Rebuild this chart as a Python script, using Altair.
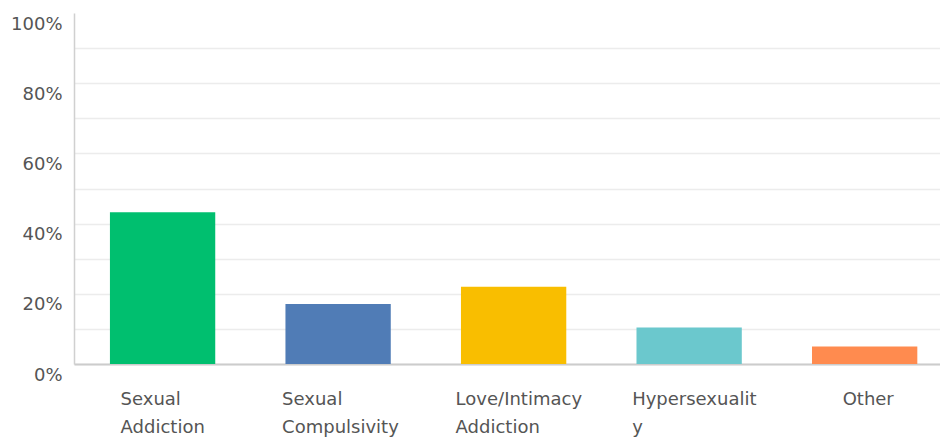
import altair as alt
import pandas as pd

categories = ["Sexual Addiction", "Sexual Compulsivity", "Love/Intimacy Addiction", "Hypersexuality", "Other"]
label_lines = [["Sexual", "Addiction"], ["Sexual", "Compulsivity"], ["Love/Intimacy", "Addiction"], ["Hypersexualit", "y"], ["Other"]]
values = [0.432, 0.171, 0.220, 0.104, 0.050]
colors = ["#00BF6F", "#507CB6", "#F9BE00", "#6BC8CD", "#FF8B4F"]
y_ticks = [0, 0.1, 0.2, 0.3, 0.4, 0.5, 0.6, 0.7, 0.8, 0.9, 1.0]
label_left_offsets = [-42, -56, -58, -57, -22]

df = pd.DataFrame({"category": categories, "value": values})

# label text lookup expression
expr = "''"
for cat, lines in reversed(list(zip(categories, label_lines))):
    arr = "[" + ",".join("'" + l + "'" for l in lines) + "]"
    expr = f"datum.value === '{cat}' ? {arr} : ({expr})"

offset_cond = {
    "condition": [
        {"test": f"datum.value === '{c}'", "value": o}
        for c, o in zip(categories[:-1], label_left_offsets[:-1])
    ],
    "value": label_left_offsets[-1],
}

FONT = "DejaVu Sans"
TEXT = "#555555"

chart = alt.Chart(df).mark_bar().encode(
    x=alt.X(
        "category:N",
        sort=categories,
        scale=alt.Scale(paddingInner=0.4, paddingOuter=0.167, align=0.613),
        axis=alt.Axis(
            title=None,
            labelAngle=0,
            labelExpr=expr,
            labelAlign="left",
            labelBaseline="top",
            labelOffset=offset_cond,
            labelPadding=26,
            labelLineHeight=28,
            labelFont=FONT,
            labelFontSize=18,
            labelColor=TEXT,
            ticks=False,
            grid=False,
            domainColor="#cccccc",
            domainWidth=2,
            labelLimit=300,
        ),
    ),
    y=alt.Y(
        "value:Q",
        scale=alt.Scale(domain=[0, 1], nice=False),
        axis=alt.Axis(
            title=None,
            values=y_ticks,
            labelExpr="round(datum.value*10) % 2 == 0 ? format(datum.value, '.0%') : ''",
            labelFont=FONT,
            labelFontSize=18,
            labelColor=TEXT,
            labelPadding=12,
            labelOffset=11,
            ticks=False,
            grid=True,
            gridColor="#ececec",
            gridWidth=1.5,
            gridOpacity={"condition": {"test": "datum.value > 0.99", "value": 0}, "value": 1},
            domainColor="#d0d0d0",
            domainWidth=1.5,
        ),
    ),
    color=alt.Color("category:N", scale=alt.Scale(domain=categories, range=colors), legend=None),
).properties(
    width=866,
    height=351,
    autosize=alt.AutoSizeParams(type="none"),
    padding={"left": 74, "top": 13, "right": 0, "bottom": 74},
).configure_view(stroke=None)

chart.save("out.html", embed_options={"renderer": "svg", "actions": False})
